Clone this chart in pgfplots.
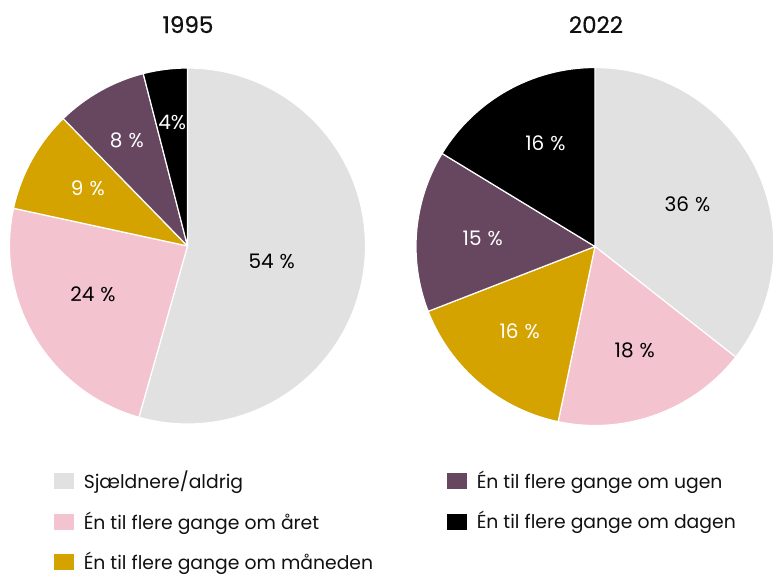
\documentclass[border=0pt]{standalone}
\usepackage{pgfplots}
\pgfplotsset{compat=1.18}
\usepackage{pgfplotstable}
\usepackage{etoolbox}
\usepackage{fontspec}
\setmainfont{Poppins}
\newfontfamily\titlefont{Poppins}[FakeBold=0.6]
\definecolor{cgray}{HTML}{E1E1E1}
\definecolor{cpink}{HTML}{F4C3D0}
\definecolor{cgold}{HTML}{D4A300}
\definecolor{cpurple}{HTML}{67465F}
\definecolor{cblack}{HTML}{000000}
\definecolor{ctext}{HTML}{111111}

% 1995: share (%), label, gap after number (pt), label position (axis units), colours
\pgfplotstableread{
value lbl gap lx ly col tc
54.4 54 3 0.473 -0.086 cgray black
24.0 24 3 -0.531 -0.271 cpink black
9.3 9 3 -0.560 0.324 cgold white
8.3 8 3 -0.341 0.596 cpurple white
4.0 4 0 -0.086 0.692 cblack white
}\tblA
% 2022
\pgfplotstableread{
value lbl gap lx ly col tc
35.6 36 3 0.517 0.236 cgray black
17.7 18 3 0.222 -0.578 cpink black
15.8 16 3 -0.421 -0.472 cgold white
14.6 15 3 -0.627 0.046 cpurple white
16.3 16 3 -0.277 0.577 cblack white
}\tblB

\newcommand\lblfont{\fontsize{10}{12}\selectfont}
\newcommand\legfont{\fontsize{9.4}{11}\selectfont}

\newcommand\buildpie[4]{% #1 table, #2 slices macro, #3 labels macro, #4 radius
  \def#2{}\def#3{}%
  \pgfplotstablegetrowsof{#1}\pgfmathtruncatemacro\lastrow{\pgfplotsretval-1}%
  \def\cum{90}%
  \pgfplotsforeachungrouped \i in {0,...,\lastrow}{%
    \pgfplotstablegetelem{\i}{value}\of{#1}\let\pv\pgfplotsretval
    \pgfplotstablegetelem{\i}{lbl}\of{#1}\let\plb\pgfplotsretval
    \pgfplotstablegetelem{\i}{gap}\of{#1}\let\pgap\pgfplotsretval
    \pgfplotstablegetelem{\i}{lx}\of{#1}\let\plx\pgfplotsretval
    \pgfplotstablegetelem{\i}{ly}\of{#1}\let\ply\pgfplotsretval
    \pgfplotstablegetelem{\i}{col}\of{#1}\let\pcol\pgfplotsretval
    \pgfplotstablegetelem{\i}{tc}\of{#1}\let\ptc\pgfplotsretval
    \pgfmathsetmacro\aend{\cum-3.6*\pv}%
    \pgfmathsetmacro\xs{cos(\cum)}%
    \pgfmathsetmacro\ys{sin(\cum)}%
    \eappto#2{\noexpand\fill[fill=\pcol,draw=white,line width=0.6pt,line join=round] (axis cs:0,0) -- (axis cs:\xs,\ys) arc[start angle=\cum, end angle=\aend, radius=#4] -- cycle;}%
    \eappto#3{\noexpand\node[text=\ptc,font=\noexpand\lblfont,inner sep=0pt] at (axis cs:\plx,\ply) {\plb\noexpand\hspace{\pgap pt}\noexpand\%};}%
    \let\cum\aend
  }%
}
\buildpie{\tblA}{\slicesA}{\labelsA}{89pt}
\buildpie{\tblB}{\slicesB}{\labelsB}{89.5pt}

\pgfplotsset{
  pie/.style={hide axis, scale only axis,
    xmin=-1,xmax=1,ymin=-1,ymax=1, clip=false, anchor=south west,
    legend columns=1,
    legend style={draw=none, fill=none, inner sep=0pt, font=\legfont, text=ctext,
      row sep=6pt, cells={anchor=west}},
    legend image code/.code={\fill[##1,draw=none] (0pt,-4pt) rectangle (10pt,4pt); \path (12.5pt,0pt);},
  },
}

\begin{document}
\begin{tikzpicture}
\path[use as bounding box] (0pt,0pt) rectangle (386.5pt,-287.5pt);
\begin{axis}[pie, at={(4.75pt,-212pt)}, width=178pt, height=178pt,
  legend style={at={(0.125,-0.12)}, anchor=north west}]
\slicesA
\labelsA
\addlegendimage{fill=cgray}\addlegendentry{Sjældnere/aldrig}
\addlegendimage{fill=cpink}\addlegendentry{Én til flere gange om året}
\addlegendimage{fill=cgold}\addlegendentry{Én til flere gange om måneden}
\end{axis}
\begin{axis}[pie, at={(208pt,-212.75pt)}, width=179pt, height=179pt,
  legend style={at={(0.0866,-0.115)}, anchor=north west}]
\slicesB
\labelsB
\addlegendimage{fill=cpurple}\addlegendentry{Én til flere gange om ugen}
\addlegendimage{fill=cblack}\addlegendentry{Én til flere gange om dagen}
\end{axis}
\node[font=\titlefont\fontsize{11.5}{13}\selectfont, text=ctext] at (94pt,-12.3pt) {1995};
\node[font=\titlefont\fontsize{11.5}{13}\selectfont, text=ctext] at (298pt,-12.3pt) {2022};
\end{tikzpicture}
\end{document}
